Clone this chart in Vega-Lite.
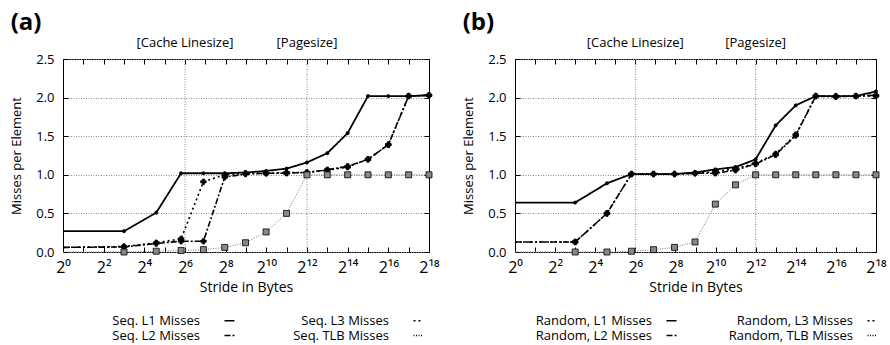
{
  "$schema": "https://vega.github.io/schema/vega-lite/v6.json",
  "padding": {"left": 10, "top": 10, "right": 0, "bottom": 0},
  "spacing": 22,
  "resolve": {"scale": {"strokeDash": "independent"}, "legend": {"strokeDash": "independent"}},
  "config": {
    "font": "Open Sans",
    "view": {"stroke": "#000", "strokeWidth": 1},
    "title": {"fontSize": 24, "fontWeight": "bold", "anchor": "start", "font": "Open Sans", "offset": 2},
    "axis": {"labelFont": "Open Sans", "titleFont": "Open Sans", "titleFontWeight": "normal", "labelColor": "#000", "titleColor": "#000", "tickColor": "#000"},
    "legend": {"labelColor": "#000"}
  },
  "datasets": {
    "marks": [
      {"pos": 64, "label": "[Cache Linesize]"},
      {"pos": 4096, "label": "[Pagesize]"}
    ],
    "a": [
      {"s": "Seq. L1 Misses", "x": 1, "v": 0.27}, {"s": "Seq. L1 Misses", "x": 8, "v": 0.27}, {"s": "Seq. L1 Misses", "x": 24, "v": 0.51}, {"s": "Seq. L1 Misses", "x": 56, "v": 1.02}, {"s": "Seq. L1 Misses", "x": 120, "v": 1.02}, {"s": "Seq. L1 Misses", "x": 248, "v": 1.02}, {"s": "Seq. L1 Misses", "x": 504, "v": 1.03}, {"s": "Seq. L1 Misses", "x": 1016, "v": 1.05}, {"s": "Seq. L1 Misses", "x": 2040, "v": 1.08}, {"s": "Seq. L1 Misses", "x": 4088, "v": 1.16}, {"s": "Seq. L1 Misses", "x": 8184, "v": 1.28}, {"s": "Seq. L1 Misses", "x": 16376, "v": 1.54}, {"s": "Seq. L1 Misses", "x": 32760, "v": 2.02}, {"s": "Seq. L1 Misses", "x": 65528, "v": 2.02}, {"s": "Seq. L1 Misses", "x": 131064, "v": 2.02}, {"s": "Seq. L1 Misses", "x": 262136, "v": 2.03},
      {"s": "Seq. L2 Misses", "x": 1, "v": 0.06}, {"s": "Seq. L2 Misses", "x": 8, "v": 0.065}, {"s": "Seq. L2 Misses", "x": 24, "v": 0.11}, {"s": "Seq. L2 Misses", "x": 56, "v": 0.14}, {"s": "Seq. L2 Misses", "x": 120, "v": 0.14}, {"s": "Seq. L2 Misses", "x": 248, "v": 0.97}, {"s": "Seq. L2 Misses", "x": 504, "v": 1.01}, {"s": "Seq. L2 Misses", "x": 1016, "v": 1.02}, {"s": "Seq. L2 Misses", "x": 2040, "v": 1.02}, {"s": "Seq. L2 Misses", "x": 4088, "v": 1.03}, {"s": "Seq. L2 Misses", "x": 8184, "v": 1.065}, {"s": "Seq. L2 Misses", "x": 16376, "v": 1.11}, {"s": "Seq. L2 Misses", "x": 32760, "v": 1.2}, {"s": "Seq. L2 Misses", "x": 65528, "v": 1.39}, {"s": "Seq. L2 Misses", "x": 131064, "v": 2.02}, {"s": "Seq. L2 Misses", "x": 262136, "v": 2.03},
      {"s": "Seq. L3 Misses", "x": 1, "v": 0.06}, {"s": "Seq. L3 Misses", "x": 8, "v": 0.07}, {"s": "Seq. L3 Misses", "x": 24, "v": 0.12}, {"s": "Seq. L3 Misses", "x": 56, "v": 0.17}, {"s": "Seq. L3 Misses", "x": 120, "v": 0.91}, {"s": "Seq. L3 Misses", "x": 248, "v": 1.0}, {"s": "Seq. L3 Misses", "x": 504, "v": 1.02}, {"s": "Seq. L3 Misses", "x": 1016, "v": 1.02}, {"s": "Seq. L3 Misses", "x": 2040, "v": 1.03}, {"s": "Seq. L3 Misses", "x": 4088, "v": 1.03}, {"s": "Seq. L3 Misses", "x": 8184, "v": 1.06}, {"s": "Seq. L3 Misses", "x": 16376, "v": 1.1}, {"s": "Seq. L3 Misses", "x": 32760, "v": 1.2}, {"s": "Seq. L3 Misses", "x": 65528, "v": 1.39}, {"s": "Seq. L3 Misses", "x": 131064, "v": 2.02}, {"s": "Seq. L3 Misses", "x": 262136, "v": 2.03},
      {"s": "Seq. TLB Misses", "x": 1, "v": 0.0}, {"s": "Seq. TLB Misses", "x": 8, "v": 0.0}, {"s": "Seq. TLB Misses", "x": 24, "v": 0.01}, {"s": "Seq. TLB Misses", "x": 56, "v": 0.02}, {"s": "Seq. TLB Misses", "x": 120, "v": 0.03}, {"s": "Seq. TLB Misses", "x": 248, "v": 0.06}, {"s": "Seq. TLB Misses", "x": 504, "v": 0.12}, {"s": "Seq. TLB Misses", "x": 1016, "v": 0.26}, {"s": "Seq. TLB Misses", "x": 2040, "v": 0.5}, {"s": "Seq. TLB Misses", "x": 4088, "v": 1.0}, {"s": "Seq. TLB Misses", "x": 8184, "v": 1.0}, {"s": "Seq. TLB Misses", "x": 16376, "v": 1.0}, {"s": "Seq. TLB Misses", "x": 32760, "v": 1.0}, {"s": "Seq. TLB Misses", "x": 65528, "v": 1.0}, {"s": "Seq. TLB Misses", "x": 131064, "v": 1.0}, {"s": "Seq. TLB Misses", "x": 262136, "v": 1.0}
    ],
    "b": [
      {"s": "Random, L1 Misses", "x": 1, "v": 0.64}, {"s": "Random, L1 Misses", "x": 8, "v": 0.64}, {"s": "Random, L1 Misses", "x": 24, "v": 0.89}, {"s": "Random, L1 Misses", "x": 56, "v": 1.01}, {"s": "Random, L1 Misses", "x": 120, "v": 1.01}, {"s": "Random, L1 Misses", "x": 248, "v": 1.01}, {"s": "Random, L1 Misses", "x": 504, "v": 1.03}, {"s": "Random, L1 Misses", "x": 1016, "v": 1.07}, {"s": "Random, L1 Misses", "x": 2040, "v": 1.1}, {"s": "Random, L1 Misses", "x": 4088, "v": 1.2}, {"s": "Random, L1 Misses", "x": 8184, "v": 1.64}, {"s": "Random, L1 Misses", "x": 16376, "v": 1.9}, {"s": "Random, L1 Misses", "x": 32760, "v": 2.02}, {"s": "Random, L1 Misses", "x": 65528, "v": 2.02}, {"s": "Random, L1 Misses", "x": 131064, "v": 2.02}, {"s": "Random, L1 Misses", "x": 262136, "v": 2.08},
      {"s": "Random, L2 Misses", "x": 1, "v": 0.13}, {"s": "Random, L2 Misses", "x": 8, "v": 0.13}, {"s": "Random, L2 Misses", "x": 24, "v": 0.5}, {"s": "Random, L2 Misses", "x": 56, "v": 1.01}, {"s": "Random, L2 Misses", "x": 120, "v": 1.01}, {"s": "Random, L2 Misses", "x": 248, "v": 1.01}, {"s": "Random, L2 Misses", "x": 504, "v": 1.02}, {"s": "Random, L2 Misses", "x": 1016, "v": 1.02}, {"s": "Random, L2 Misses", "x": 2040, "v": 1.06}, {"s": "Random, L2 Misses", "x": 4088, "v": 1.14}, {"s": "Random, L2 Misses", "x": 8184, "v": 1.26}, {"s": "Random, L2 Misses", "x": 16376, "v": 1.51}, {"s": "Random, L2 Misses", "x": 32760, "v": 2.02}, {"s": "Random, L2 Misses", "x": 65528, "v": 2.01}, {"s": "Random, L2 Misses", "x": 131064, "v": 2.02}, {"s": "Random, L2 Misses", "x": 262136, "v": 2.03},
      {"s": "Random, L3 Misses", "x": 1, "v": 0.13}, {"s": "Random, L3 Misses", "x": 8, "v": 0.13}, {"s": "Random, L3 Misses", "x": 24, "v": 0.5}, {"s": "Random, L3 Misses", "x": 56, "v": 1.01}, {"s": "Random, L3 Misses", "x": 120, "v": 1.01}, {"s": "Random, L3 Misses", "x": 248, "v": 1.01}, {"s": "Random, L3 Misses", "x": 504, "v": 1.02}, {"s": "Random, L3 Misses", "x": 1016, "v": 1.04}, {"s": "Random, L3 Misses", "x": 2040, "v": 1.08}, {"s": "Random, L3 Misses", "x": 4088, "v": 1.15}, {"s": "Random, L3 Misses", "x": 8184, "v": 1.27}, {"s": "Random, L3 Misses", "x": 16376, "v": 1.52}, {"s": "Random, L3 Misses", "x": 32760, "v": 2.02}, {"s": "Random, L3 Misses", "x": 65528, "v": 2.02}, {"s": "Random, L3 Misses", "x": 131064, "v": 2.02}, {"s": "Random, L3 Misses", "x": 262136, "v": 2.02},
      {"s": "Random, TLB Misses", "x": 1, "v": 0.0}, {"s": "Random, TLB Misses", "x": 8, "v": 0.0}, {"s": "Random, TLB Misses", "x": 24, "v": 0.0}, {"s": "Random, TLB Misses", "x": 56, "v": 0.01}, {"s": "Random, TLB Misses", "x": 120, "v": 0.03}, {"s": "Random, TLB Misses", "x": 248, "v": 0.06}, {"s": "Random, TLB Misses", "x": 504, "v": 0.13}, {"s": "Random, TLB Misses", "x": 1016, "v": 0.62}, {"s": "Random, TLB Misses", "x": 2040, "v": 0.87}, {"s": "Random, TLB Misses", "x": 4088, "v": 1.0}, {"s": "Random, TLB Misses", "x": 8184, "v": 1.0}, {"s": "Random, TLB Misses", "x": 16376, "v": 1.0}, {"s": "Random, TLB Misses", "x": 32760, "v": 1.0}, {"s": "Random, TLB Misses", "x": 65528, "v": 1.0}, {"s": "Random, TLB Misses", "x": 131064, "v": 1.0}, {"s": "Random, TLB Misses", "x": 262136, "v": 1.0}
    ]
  },
  "hconcat": [
    {
      "title": "(a)",
      "width": 366,
      "height": 193,
      "resolve": {"axis": {"x": "independent", "y": "independent"}},
      "layer": [
        {
          "data": {"name": "marks"},
          "mark": {"type": "rule", "strokeDash": [1, 1.5], "color": "#888"},
          "encoding": {
            "x": {"field": "pos", "type": "quantitative", "scale": {"type": "log", "base": 2, "domain": [1, 262144]},
              "axis": {"orient": "bottom", "values": [1,2,4,8,16,32,64,128,256,512,1024,2048,4096,8192,16384,32768,65536,131072,262144],
                "labelExpr": "(round(log(datum.value)/LN2) % 2 == 0) ? '2' + ['⁰','¹','²','³','⁴','⁵','⁶','⁷','⁸','⁹','¹⁰','¹¹','¹²','¹³','¹⁴','¹⁵','¹⁶','¹⁷','¹⁸'][round(log(datum.value)/LN2)] : ''",
                "tickSize": -5, "grid": false, "domain": false, "labelFlush": false, "labelOverlap": false,
                "labelFontSize": 16, "labelPadding": 12, "title": "Stride in Bytes", "titleFontSize": 14, "titlePadding": 5}}
          }
        },
        {
          "data": {"name": "marks"},
          "mark": {"type": "text", "dy": -12, "baseline": "alphabetic", "fontSize": 13},
          "encoding": {
            "x": {"field": "pos", "type": "quantitative", "scale": {"type": "log", "base": 2, "domain": [1, 262144]}, "axis": null},
            "y": {"datum": 2.5, "type": "quantitative", "scale": {"domain": [0, 2.5]}, "axis": null},
            "text": {"field": "label"}
          }
        },
        {
          "data": {"name": "a"},
          "mark": {"type": "line"},
          "encoding": {
            "x": {"field": "x", "type": "quantitative", "scale": {"type": "log", "base": 2, "domain": [1, 262144]},
              "axis": {"orient": "top", "values": [1,2,4,8,16,32,64,128,256,512,1024,2048,4096,8192,16384,32768,65536,131072,262144], "labels": false, "tickSize": -5, "grid": false, "domain": false, "title": null}},
            "y": {"field": "v", "type": "quantitative", "scale": {"domain": [0, 2.5]},
              "axis": {"orient": "left", "values": [0, 0.5, 1, 1.5, 2, 2.5], "format": ".1f", "grid": true, "gridDash": [1, 1.5], "gridColor": "#888", "tickSize": -5, "domain": false, "labelFontSize": 13, "labelPadding": 14, "title": "Misses per Element", "titleFontSize": 13, "titlePadding": 12}},
            "strokeDash": {"field": "s", "type": "nominal",
              "scale": {"domain": ["Seq. L1 Misses", "Seq. L3 Misses", "Seq. L2 Misses", "Seq. TLB Misses"], "range": [[1, 0], [2, 3], [6, 2, 2, 2], [1, 1.5]]},
              "legend": {"orient": "none", "legendX": 160, "legendY": 255, "direction": "horizontal", "columns": 2, "title": null, "labelAlign": "right", "labelOffset": -36, "columnPadding": 55, "rowPadding": 1, "labelFontSize": 13, "symbolSize": 100,
                "encode": {"symbols": {"update": {
                  "shape": {"signal": "datum.value == 'Seq. L1 Misses' ? 'M-2.2,0H2.2M-0.4,-0.4H0.4V0.4H-0.4Z' : (datum.value == 'Seq. TLB Misses' ? 'M-2.2,0H-0.55M0.55,0H2.2M-0.55,-0.55H0.55V0.55H-0.55Z' : 'M-2.2,0H2.2M0,-0.65L0.65,0L0,0.65L-0.65,0Z')"},
                  "fill": {"value": "#000"}, "stroke": {"value": "#000"}, "strokeWidth": {"value": 1.4}}}}}},
            "color": {"condition": {"test": "datum.s == 'Seq. TLB Misses'", "value": "#777"}, "value": "#000"},
            "strokeWidth": {"condition": [{"test": "datum.s == 'Seq. TLB Misses'", "value": 1}, {"test": "datum.s == 'Seq. L1 Misses'", "value": 1.8}], "value": 1.6}
          }
        },
        {
          "data": {"name": "a"},
          "transform": [{"filter": "datum.x > 1"}],
          "mark": {"type": "point", "filled": true, "opacity": 1, "stroke": "#000", "strokeWidth": 0.8},
          "encoding": {
            "x": {"field": "x", "type": "quantitative", "scale": {"type": "log", "base": 2, "domain": [1, 262144]}, "axis": null},
            "y": {"field": "v", "type": "quantitative", "scale": {"domain": [0, 2.5]},
              "axis": {"orient": "right", "values": [0, 0.5, 1, 1.5, 2, 2.5], "labels": false, "tickSize": -5, "grid": false, "domain": false, "title": null}},
            "shape": {"condition": [{"test": "datum.s == 'Seq. TLB Misses'", "value": "square"}, {"test": "datum.s == 'Seq. L1 Misses'", "value": "circle"}], "value": "cross"},
            "size": {"condition": [{"test": "datum.s == 'Seq. TLB Misses'", "value": 36}, {"test": "datum.s == 'Seq. L1 Misses'", "value": 10}], "value": 30},
            "fill": {"condition": {"test": "datum.s == 'Seq. TLB Misses'", "value": "#888"}, "value": "#000"}
          }
        }
      ]
    },
    {
      "title": "(b)",
      "width": 361,
      "height": 193,
      "resolve": {"axis": {"x": "independent", "y": "independent"}},
      "layer": [
        {
          "data": {"name": "marks"},
          "mark": {"type": "rule", "strokeDash": [1, 1.5], "color": "#888"},
          "encoding": {
            "x": {"field": "pos", "type": "quantitative", "scale": {"type": "log", "base": 2, "domain": [1, 262144]},
              "axis": {"orient": "bottom", "values": [1,2,4,8,16,32,64,128,256,512,1024,2048,4096,8192,16384,32768,65536,131072,262144],
                "labelExpr": "(round(log(datum.value)/LN2) % 2 == 0) ? '2' + ['⁰','¹','²','³','⁴','⁵','⁶','⁷','⁸','⁹','¹⁰','¹¹','¹²','¹³','¹⁴','¹⁵','¹⁶','¹⁷','¹⁸'][round(log(datum.value)/LN2)] : ''",
                "tickSize": -5, "grid": false, "domain": false, "labelFlush": false, "labelOverlap": false,
                "labelFontSize": 16, "labelPadding": 12, "title": "Stride in Bytes", "titleFontSize": 14, "titlePadding": 5}}
          }
        },
        {
          "data": {"name": "marks"},
          "mark": {"type": "text", "dy": -12, "baseline": "alphabetic", "fontSize": 13},
          "encoding": {
            "x": {"field": "pos", "type": "quantitative", "scale": {"type": "log", "base": 2, "domain": [1, 262144]}, "axis": null},
            "y": {"datum": 2.5, "type": "quantitative", "scale": {"domain": [0, 2.5]}, "axis": null},
            "text": {"field": "label"}
          }
        },
        {
          "data": {"name": "b"},
          "mark": {"type": "line"},
          "encoding": {
            "x": {"field": "x", "type": "quantitative", "scale": {"type": "log", "base": 2, "domain": [1, 262144]},
              "axis": {"orient": "top", "values": [1,2,4,8,16,32,64,128,256,512,1024,2048,4096,8192,16384,32768,65536,131072,262144], "labels": false, "tickSize": -5, "grid": false, "domain": false, "title": null}},
            "y": {"field": "v", "type": "quantitative", "scale": {"domain": [0, 2.5]},
              "axis": {"orient": "left", "values": [0, 0.5, 1, 1.5, 2, 2.5], "format": ".1f", "grid": true, "gridDash": [1, 1.5], "gridColor": "#888", "tickSize": -5, "domain": false, "labelFontSize": 13, "labelPadding": 14, "title": "Misses per Element", "titleFontSize": 13, "titlePadding": 12}},
            "strokeDash": {"field": "s", "type": "nominal",
              "scale": {"domain": ["Random, L1 Misses", "Random, L3 Misses", "Random, L2 Misses", "Random, TLB Misses"], "range": [[1, 0], [2, 3], [6, 2, 2, 2], [1, 1.5]]},
              "legend": {"orient": "none", "legendX": 150, "legendY": 255, "direction": "horizontal", "columns": 2, "title": null, "labelAlign": "right", "labelOffset": -26, "columnPadding": 48, "rowPadding": 1, "labelFontSize": 13, "symbolSize": 100,
                "encode": {"symbols": {"update": {
                  "shape": {"signal": "datum.value == 'Random, L1 Misses' ? 'M-2.2,0H2.2M-0.4,-0.4H0.4V0.4H-0.4Z' : (datum.value == 'Random, TLB Misses' ? 'M-2.2,0H-0.55M0.55,0H2.2M-0.55,-0.55H0.55V0.55H-0.55Z' : 'M-2.2,0H2.2M0,-0.65L0.65,0L0,0.65L-0.65,0Z')"},
                  "fill": {"value": "#000"}, "stroke": {"value": "#000"}, "strokeWidth": {"value": 1.4}}}}}},
            "color": {"condition": {"test": "datum.s == 'Random, TLB Misses'", "value": "#777"}, "value": "#000"},
            "strokeWidth": {"condition": [{"test": "datum.s == 'Random, TLB Misses'", "value": 1}, {"test": "datum.s == 'Random, L1 Misses'", "value": 1.8}], "value": 1.6}
          }
        },
        {
          "data": {"name": "b"},
          "transform": [{"filter": "datum.x > 1"}],
          "mark": {"type": "point", "filled": true, "opacity": 1, "stroke": "#000", "strokeWidth": 0.8},
          "encoding": {
            "x": {"field": "x", "type": "quantitative", "scale": {"type": "log", "base": 2, "domain": [1, 262144]}, "axis": null},
            "y": {"field": "v", "type": "quantitative", "scale": {"domain": [0, 2.5]},
              "axis": {"orient": "right", "values": [0, 0.5, 1, 1.5, 2, 2.5], "labels": false, "tickSize": -5, "grid": false, "domain": false, "title": null}},
            "shape": {"condition": [{"test": "datum.s == 'Random, TLB Misses'", "value": "square"}, {"test": "datum.s == 'Random, L1 Misses'", "value": "circle"}], "value": "cross"},
            "size": {"condition": [{"test": "datum.s == 'Random, TLB Misses'", "value": 36}, {"test": "datum.s == 'Random, L1 Misses'", "value": 10}], "value": 30},
            "fill": {"condition": {"test": "datum.s == 'Random, TLB Misses'", "value": "#888"}, "value": "#000"}
          }
        }
      ]
    }
  ]
}
